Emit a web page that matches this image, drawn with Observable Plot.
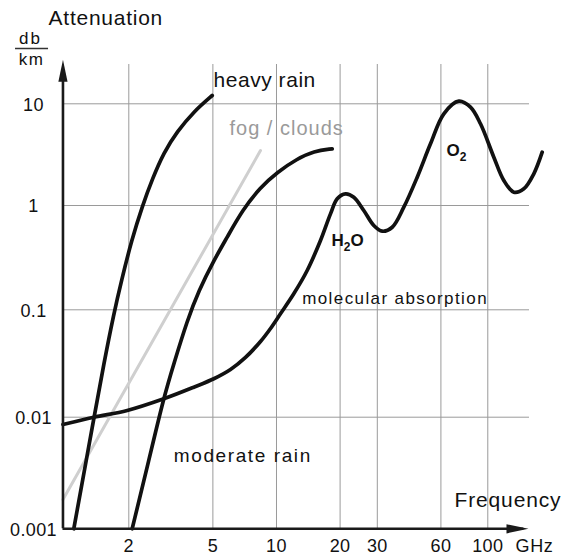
<!DOCTYPE html>
<html><head><meta charset="utf-8">
<script src="https://cdn.jsdelivr.net/npm/d3@7"></script>
<script src="https://cdn.jsdelivr.net/npm/@observablehq/plot@0.6"></script>
<style>body{margin:0;background:#fff}</style>
</head><body><div id="chart"></div>
<script>
// ---- axis ticks ----
const xTicks = [2, 5, 10, 20, 30, 60, 100];
const xTickLabels = ["2", "5", "10", "20", "30", "60", "100"];
const yTicks = [0.001, 0.01, 0.1, 1, 10];
const yTickLabels = ["0.001", "0.01", "0.1", "1", "10"];
const yGrid = [0.01, 0.1, 1, 10];

// ---- series (frequency GHz, attenuation dB/km) ----
const heavyRainF = [1.098, 1.366, 1.523, 1.698, 1.847, 2.060, 2.322, 2.590, 2.928, 3.388, 4.061, 4.963];
const heavyRainA = [0.001, 0.00968, 0.0314, 0.0918, 0.191, 0.462, 1.0, 1.843, 3.32, 5.34, 8.40, 12.07];

const moderateRainF = [2.075, 2.487, 2.928, 3.266, 3.779, 4.288, 5.05, 5.844, 6.88, 8.40, 10.08, 12.53, 15.02, 18.35];
const moderateRainA = [0.001, 0.00409, 0.01535, 0.0314, 0.0795, 0.1531, 0.2971, 0.4967, 0.896, 1.514, 2.126, 2.878, 3.42, 3.61];

const fogF = [0.976, 8.40];
const fogA = [0.00183, 3.47];

const molecularF = [0.976, 1.366, 1.965, 2.928, 4.061, 5.05, 6.058, 7.134, 8.40, 9.37, 10.44, 12.07, 13.97, 16.15, 18.01, 19.38, 21.21, 23.22, 25.89, 28.87, 31.64, 35.29, 40.04, 46.34, 53.56, 61.93, 72.93, 82.8, 92.35, 106.8, 119.1, 132.8, 148.1, 165.1, 180.9];
const molecularA = [0.00861, 0.01, 0.01154, 0.01483, 0.01902, 0.02279, 0.0278, 0.036, 0.0507, 0.067, 0.0918, 0.1423, 0.238, 0.462, 0.832, 1.164, 1.303, 1.207, 0.896, 0.643, 0.567, 0.619, 0.963, 1.898, 4.044, 7.975, 10.61, 9.26, 6.36, 2.986, 1.762, 1.352, 1.459, 2.05, 3.343];

// ---- annotation labels (positions in data units) ----
const curveLabels = ["heavy rain", "moderate rain", "molecular absorption"];
const curveLabelF = [5.03, 3.266, 13.23];
const curveLabelA = [16.9, 0.00454, 0.1283];
const curveLabelSize = [21, 19, 17];

const fogLabel = ["fog / clouds"];
const fogLabelF = [5.99];
const fogLabelA = [5.72];

const lineLabels = ["H2O", "O2"];
const lineLabelF = [18.2, 63.8];
const lineLabelA = [0.462, 3.47];

const titleTexts = ["Attenuation", "Frequency"];
const titleF = [0.834, 69.6];
const titleA = [69.8, 0.00179];

const unitTexts = ["db", "km"];
const unitF = [0.685, 0.693];
const unitA = [43.9, 27.3];

const xUnitText = ["GHz"];
const xUnitF = [166.3];

const unitBarA = [34.98];
const unitBarF = [0.582, 0.834];

// axis geometry (data units)
const yAxisAtF = 0.976;
const yArrowTipA = 27.1;
const xArrowTipF = 155.8;

const rows = (F, A) => F.map((f, i) => ({f, a: A[i]}));
const textRows = (T, F, A, S) => T.map((t, i) => ({t, f: F[i], a: A ? A[i] : null, s: S ? S[i] : 16}));

const arrowHead = {draw(ctx) { ctx.moveTo(0, 0); ctx.lineTo(4.6, 22); ctx.lineTo(-4.6, 22); ctx.closePath(); }};

const ink = "#111";
const rainCurve = {x: "f", y: "a", stroke: ink, strokeWidth: 3.7, curve: "basis", strokeLinecap: "round"};
const molCurve = {x: "f", y: "a", stroke: ink, strokeWidth: 3.7, curve: "catmull-rom", strokeLinecap: "round"};

const svg = Plot.plot({
  width: 561,
  height: 558,
  marginTop: 64,
  marginLeft: 62,
  marginRight: 32,
  marginBottom: 29.7,
  style: {fontFamily: "'Liberation Sans', Arial, Helvetica, sans-serif", background: "#fff", color: ink},
  x: {type: "log", domain: [1, 200], range: [64.7, 550.9], label: null, axis: null},
  y: {type: "log", domain: [0.001, 0.01, 0.1, 1, 10], range: [528.3, 416.7, 309.3, 205, 103.3], label: null, axis: null},
  marks: [
    Plot.ruleX(xTicks.map(d => ({f: d})), {x: "f", stroke: "#9a9a9a", strokeWidth: 1}),
    Plot.ruleY(yGrid.map(d => ({a: d})), {y: "a", stroke: "#9a9a9a", strokeWidth: 1}),
    Plot.line(rows(fogF, fogA), {x: "f", y: "a", stroke: "#cfcfcf", strokeWidth: 3}),
    Plot.line(rows(heavyRainF, heavyRainA), rainCurve),
    Plot.line(rows(moderateRainF, moderateRainA), rainCurve),
    Plot.line(rows(molecularF, molecularA), molCurve),
    Plot.ruleX([yAxisAtF], {y1: 0.001, y2: yArrowTipA * 0.8, stroke: "#1a1a1a", strokeWidth: 2.6}),
    Plot.ruleY([0.001], {x1: yAxisAtF, x2: xArrowTipF * 0.95, stroke: "#1a1a1a", strokeWidth: 2.6}),
    Plot.dot([{f: yAxisAtF, a: yArrowTipA}], {x: "f", y: "a", symbol: arrowHead, fill: "#1a1a1a", stroke: "none"}),
    Plot.dot([{f: xArrowTipF, a: 0.001}], {x: "f", y: "a", symbol: arrowHead, fill: "#1a1a1a", stroke: "none", rotate: 90}),
    // tick labels
    Plot.text(xTicks.map((d, i) => ({f: d, t: xTickLabels[i]})), {x: "f", text: "t", frameAnchor: "bottom", lineAnchor: "middle", dy: 17.7, fontSize: 18, fill: ink, textAnchor: "middle"}),
    Plot.text(textRows(xUnitText, xUnitF), {x: "f", text: "t", frameAnchor: "bottom", lineAnchor: "middle", dy: 17.7, fontSize: 18, fill: ink, textAnchor: "middle"}),
    Plot.text(yTicks.map((d, i) => ({a: d, t: yTickLabels[i]})), {y: "a", text: "t", frameAnchor: "left", lineAnchor: "middle", dx: -29, dy: 1, fontSize: 18, fill: ink, textAnchor: "middle"}),
    // annotations
    Plot.text(textRows(curveLabels, curveLabelF, curveLabelA, curveLabelSize), {x: "f", y: "a", text: "t", fontSize: "s", textAnchor: "start", fill: ink}),
    Plot.text(textRows(fogLabel, fogLabelF, fogLabelA), {x: "f", y: "a", text: "t", fontSize: 20, textAnchor: "start", fill: "#9a9a9a"}),
    Plot.text(textRows(lineLabels, lineLabelF, lineLabelA), {x: "f", y: "a", text: "t", fontSize: 17, fontWeight: "bold", textAnchor: "start", fill: ink}),
    Plot.text(textRows(titleTexts, titleF, titleA), {x: "f", y: "a", text: "t", fontSize: 21, textAnchor: "start", fill: ink}),
    Plot.text(textRows(unitTexts, unitF, unitA), {x: "f", y: "a", text: "t", fontSize: 17, textAnchor: "middle", fill: ink}),
    Plot.ruleY(unitBarA, {x1: unitBarF[0], x2: unitBarF[1], stroke: "#333", strokeWidth: 1.5})
  ]
});

// letter spacing to match the wide lettering of the original
const spacing = {"Attenuation": 0.75, "heavy rain": 0.55, "fog / clouds": 1.0, "moderate rain": 1.6,
  "molecular absorption": 1.4, "Frequency": 0.85, "db": 2, "km": 1.5, "GHz": 0.6, "H2O": 0, "O2": 0};
d3.select(svg).selectAll("text").each(function() {
  const t = this.textContent;
  this.setAttribute("letter-spacing", spacing[t] !== undefined ? spacing[t] : 0.4);
  // chemical formulas: lower the digit as a subscript
  if (t === "H2O" || t === "O2") {
    const parts = t.split("2");
    this.textContent = "";
    const ns = "http://www.w3.org/2000/svg";
    const a = document.createElementNS(ns, "tspan"); a.textContent = parts[0]; this.appendChild(a);
    const s = document.createElementNS(ns, "tspan"); s.textContent = "2"; s.setAttribute("dy", "5"); s.setAttribute("font-size", "12"); this.appendChild(s);
    if (parts[1]) { const b = document.createElementNS(ns, "tspan"); b.textContent = parts[1]; b.setAttribute("dy", "-5"); this.appendChild(b); }
  }
});
document.getElementById("chart").appendChild(svg);
</script>
</body></html>
